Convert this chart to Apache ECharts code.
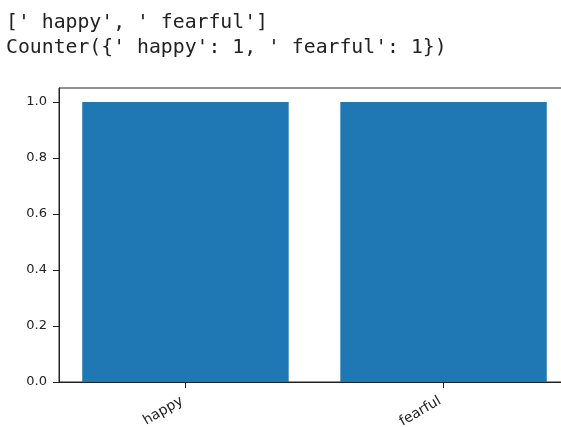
<!DOCTYPE html>
<html>
<head>
<meta charset="utf-8">
<script src="https://cdn.jsdelivr.net/npm/echarts@6/dist/echarts.min.js"></script>
<style>
  html, body { margin: 0; padding: 0; background: #fff; }
  #chart { width: 561px; height: 427px; }
</style>
</head>
<body>
<div id="chart"></div>
<script>
// printed output above the plot
const printedLines = [
  "[' happy', ' fearful']",
  "Counter({' happy': 1, ' fearful': 1})"
];
const categories = ['happy', 'fearful'];
const counts = [1, 1];
const yTicks = [0, 0.2, 0.4, 0.6, 0.8, 1.0];

const chart = echarts.init(document.getElementById('chart'));
const option = {
  animation: false,
  title: {
    text: printedLines.join('\n'),
    left: 6,
    top: 10,
    padding: 0,
    textStyle: {
      fontFamily: 'DejaVu Sans Mono',
      fontSize: 19.8,
      fontWeight: 'normal',
      lineHeight: 25,
      color: '#222'
    }
  },
  grid: {
    left: 59,
    top: 88,
    width: 511,
    bottom: 45,
    outerBoundsMode: 'none',
    containLabel: false,
    show: true,
    borderColor: '#222',
    borderWidth: 1,
    backgroundColor: 'transparent'
  },
  xAxis: {
    type: 'value',
    min: -0.49,
    max: 1.49,
    splitLine: { show: false },
    axisLine: { show: true, onZero: false, lineStyle: { color: '#222' } },
    axisTick: { show: true, length: 6, customValues: [0, 1], lineStyle: { color: '#222' } },
    axisLabel: {
      customValues: [0, 1],
      rotate: 30,
      margin: 16,
      padding: [0, 4, 0, 0],
      fontFamily: 'DejaVu Sans',
      fontSize: 14,
      color: '#222',
      formatter: v => categories[Math.round(v)]
    }
  },
  yAxis: {
    type: 'value',
    min: 0,
    max: 1.05,
    splitLine: { show: false },
    axisLine: { show: true, onZero: false, lineStyle: { color: '#222' } },
    axisTick: { show: true, length: 6, customValues: yTicks, lineStyle: { color: '#222' } },
    axisLabel: {
      customValues: yTicks,
      margin: 12,
      fontFamily: 'DejaVu Sans',
      fontSize: 13,
      color: '#222',
      formatter: v => v.toFixed(1)
    }
  },
  series: [{
    type: 'bar',
    data: counts.map((c, i) => [i, c]),
    barWidth: '80%',
    itemStyle: { color: '#1f77b4' }
  }]
};
chart.setOption(option);
</script>
</body>
</html>
